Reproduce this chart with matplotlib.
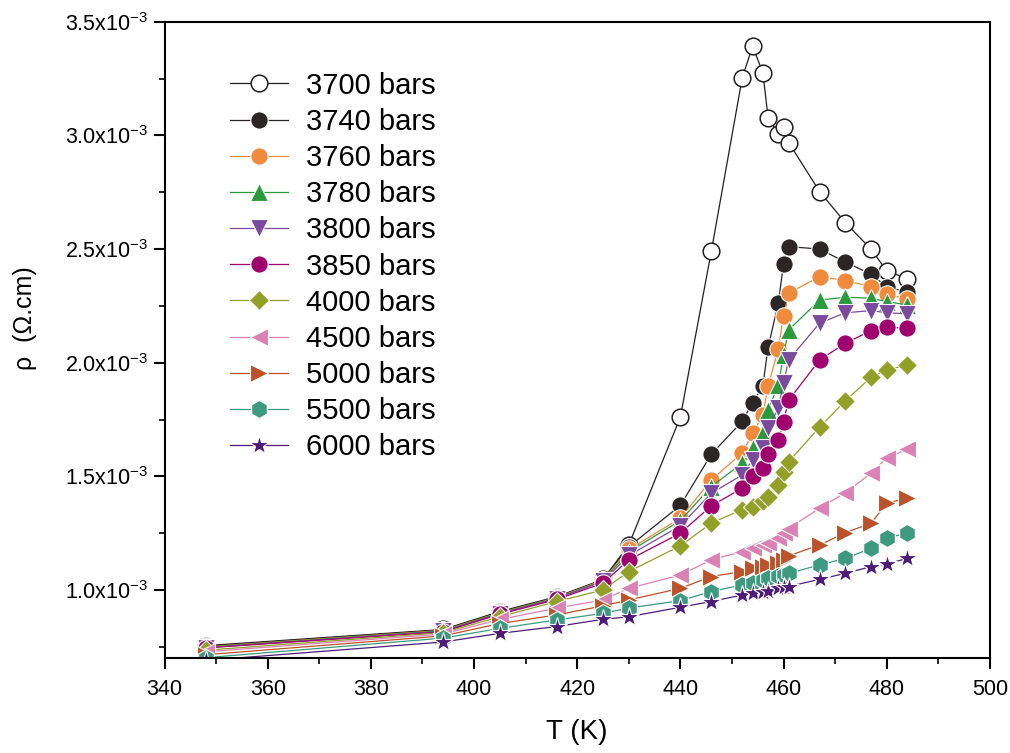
import matplotlib
matplotlib.use("Agg")
import matplotlib.pyplot as plt
from matplotlib.ticker import MultipleLocator, FuncFormatter

plt.rcParams['font.family'] = ['Liberation Sans', 'DejaVu Sans']
plt.rcParams['mathtext.default'] = 'regular'

# temperature (K)
T = [348, 394, 405, 416, 425, 430, 440, 446, 452, 454, 456, 457, 459, 460, 461, 467, 472, 477, 480, 484]

# resistivity in units of 1e-3 Ohm.cm
rho_3700 = [0.755, 0.826, 0.905, 0.970, 1.046, 1.198, 1.761, 2.490, 3.254, 3.392, 3.277, 3.079, 3.008, 3.039, 2.969, 2.753, 2.616, 2.499, 2.404, 2.370]
rho_3740 = [0.752, 0.824, 0.902, 0.968, 1.045, 1.190, 1.372, 1.597, 1.742, 1.824, 1.898, 2.067, 2.262, 2.435, 2.511, 2.500, 2.443, 2.389, 2.335, 2.309]
rho_3760 = [0.750, 0.822, 0.900, 0.966, 1.043, 1.178, 1.316, 1.484, 1.603, 1.690, 1.768, 1.898, 2.059, 2.206, 2.306, 2.379, 2.361, 2.335, 2.303, 2.279]
rho_3780 = [0.748, 0.820, 0.898, 0.964, 1.040, 1.168, 1.305, 1.455, 1.558, 1.624, 1.690, 1.792, 1.902, 2.034, 2.144, 2.276, 2.288, 2.284, 2.269, 2.254]
rho_3800 = [0.746, 0.818, 0.896, 0.962, 1.038, 1.152, 1.282, 1.426, 1.506, 1.572, 1.624, 1.712, 1.800, 1.910, 2.012, 2.174, 2.220, 2.229, 2.220, 2.215]
rho_3850 = [0.745, 0.816, 0.893, 0.958, 1.030, 1.132, 1.250, 1.370, 1.448, 1.500, 1.535, 1.597, 1.660, 1.741, 1.835, 2.012, 2.086, 2.141, 2.156, 2.152]
rho_4000 = [0.735, 0.812, 0.882, 0.949, 1.000, 1.081, 1.194, 1.294, 1.354, 1.367, 1.392, 1.411, 1.460, 1.518, 1.565, 1.716, 1.833, 1.936, 1.968, 1.990]
rho_4500 = [0.728, 0.806, 0.870, 0.920, 0.956, 1.007, 1.066, 1.132, 1.169, 1.183, 1.196, 1.207, 1.228, 1.250, 1.270, 1.360, 1.428, 1.514, 1.580, 1.619]
rho_5000 = [0.715, 0.798, 0.852, 0.890, 0.930, 0.956, 1.007, 1.059, 1.081, 1.095, 1.103, 1.110, 1.117, 1.132, 1.150, 1.198, 1.252, 1.294, 1.382, 1.404]
rho_5500 = [0.702, 0.788, 0.831, 0.868, 0.897, 0.920, 0.953, 0.993, 1.022, 1.029, 1.044, 1.051, 1.062, 1.066, 1.073, 1.110, 1.139, 1.183, 1.228, 1.250]
rho_6000 = [0.690, 0.771, 0.809, 0.839, 0.871, 0.882, 0.924, 0.949, 0.978, 0.985, 0.993, 0.997, 1.007, 1.012, 1.015, 1.047, 1.073, 1.103, 1.114, 1.139]

labels = ['3700 bars', '3740 bars', '3760 bars', '3780 bars', '3800 bars', '3850 bars',
          '4000 bars', '4500 bars', '5000 bars', '5500 bars', '6000 bars']
series = [rho_3700, rho_3740, rho_3760, rho_3780, rho_3800, rho_3850,
          rho_4000, rho_4500, rho_5000, rho_5500, rho_6000]
colors = ['#231f20', '#2b2526', '#f08a3c', '#2a9a3c', '#7a4b9c', '#a1006f',
          '#93a028', '#da82b4', '#bb5229', '#3d9a80', '#4f1b79']
markers = ['o', 'o', 'o', '^', 'v', 'o', 'D', '<', '>', 'h', '*']
sizes = [12, 12.5, 12.5, 13, 13, 12.5, 10.5, 13, 13, 13, 15]

fig = plt.figure(figsize=(10.10, 7.53), dpi=100)
ax = fig.add_axes([0.163, 0.126, 0.817, 0.845])

for i in range(len(series)):
    y = [v * 1e-3 for v in series[i]]
    if i == 0:
        face, edge, mew = 'white', colors[i], 1.1
    else:
        face, edge, mew = colors[i], 'white', 0.8
    ax.plot(T, y, color=colors[i], lw=0.9, marker=markers[i], ms=sizes[i],
            mfc=face, mec=edge, mew=mew, label=labels[i])

ax.set_xlim(340, 500)
ax.set_ylim(0.7e-3, 3.5e-3)
ax.xaxis.set_major_locator(MultipleLocator(20))
ax.xaxis.set_minor_locator(MultipleLocator(10))
ax.yaxis.set_major_locator(MultipleLocator(0.5e-3))
ax.yaxis.set_minor_locator(MultipleLocator(0.25e-3))
ax.yaxis.set_major_formatter(FuncFormatter(lambda v, p: '%.1fx10$^{-3}$' % (v * 1e3)))

ax.tick_params(which='major', direction='out', length=8, width=1.5, labelsize=15.5,
               top=False, right=False)
ax.tick_params(axis='x', which='major', pad=7)
ax.tick_params(which='minor', direction='out', length=4, width=1.2, top=False, right=False)
for s in ax.spines.values():
    s.set_linewidth(1.5)

ax.set_xlabel('T (K)', fontsize=20, labelpad=14)
ax.set_ylabel('ρ  (Ω.cm)', fontsize=18)
ax.yaxis.set_label_coords(-0.155, 0.535)

ax.legend(loc='upper left', bbox_to_anchor=(0.065, 0.94), frameon=False, fontsize=21,
          handlelength=2.0, handletextpad=0.6, labelspacing=0.28, borderaxespad=0)

fig.savefig('out.png', dpi=100)
